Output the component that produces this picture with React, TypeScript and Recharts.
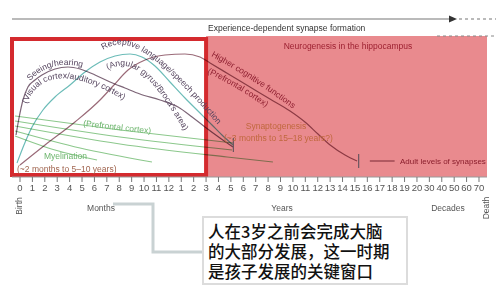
import React from 'react';
import { ComposedChart, Line, XAxis, YAxis, ReferenceArea, Scatter } from 'recharts';

// Axis: 0-12 months, 1-20 years, 30-70 (decades) — positions are category indices
const tickLabels = ['0','1','2','3','4','5','6','7','8','9','10','11','12',
  '1','2','3','4','5','6','7','8','9','10','11','12','13','14','15','16','17','18','19','20',
  '30','40','50','60','70'];
const tickIndex = tickLabels.map((_, i) => i);

// Synaptogenesis curves (x = axis index, y = relative density)
const seeingHearing = [
  { x: -0.32, y: 42 }, { x: -0.08, y: 59 }, { x: 0.24, y: 77 }, { x: 0.64, y: 90 },
  { x: 1.21, y: 97 }, { x: 1.77, y: 102 }, { x: 2.82, y: 108 }, { x: 3.87, y: 110 },
  { x: 4.84, y: 108 }, { x: 6.05, y: 102 }, { x: 7.26, y: 95 }, { x: 8.46, y: 89 },
  { x: 9.67, y: 83 }, { x: 11.29, y: 77 }, { x: 12.74, y: 70 }, { x: 13.87, y: 60 },
  { x: 14.91, y: 50 }, { x: 16.12, y: 39 }, { x: 17.17, y: 30 },
];
const language = [
  { x: -0.24, y: 14 }, { x: 0.32, y: 32 }, { x: 0.97, y: 50 }, { x: 1.85, y: 67 },
  { x: 2.82, y: 80 }, { x: 4.03, y: 92 }, { x: 5.24, y: 105 }, { x: 6.45, y: 115 },
  { x: 7.66, y: 121 }, { x: 8.87, y: 123 }, { x: 9.83, y: 120 }, { x: 10.88, y: 111 },
  { x: 12.09, y: 95 }, { x: 13.3, y: 79 }, { x: 14.51, y: 64 }, { x: 15.48, y: 52 },
  { x: 16.28, y: 42 }, { x: 17.17, y: 32 },
];
const higherCognitive = [
  { x: 0, y: 12 }, { x: 2.02, y: 32 }, { x: 4.43, y: 55 }, { x: 6.45, y: 77 },
  { x: 7.5, y: 91 }, { x: 8.71, y: 107 }, { x: 10.08, y: 117 }, { x: 11.69, y: 122 },
  { x: 13.3, y: 123 }, { x: 14.51, y: 120 }, { x: 15.32, y: 114 }, { x: 16.93, y: 102 },
  { x: 18.54, y: 90 }, { x: 20.15, y: 78 }, { x: 21.77, y: 66 }, { x: 22.97, y: 55 },
  { x: 24.02, y: 43 }, { x: 25.0, y: 32 }, { x: 26.2, y: 22 }, { x: 27.17, y: 16 },
];
// Myelination lines
const myelin1 = [{ x: -0.4, y: 61 }, { x: 8.06, y: 47 }, { x: 17.17, y: 34 }];
const myelin2 = [{ x: -0.4, y: 56 }, { x: 8.06, y: 40 }, { x: 17.09, y: 27 }];
const myelin3 = [{ x: -0.4, y: 51 }, { x: 8.06, y: 33 }, { x: 16.69, y: 20 }, { x: 20.39, y: 15 }];
const myelin4 = [{ x: -0.4, y: 46 }, { x: 4.84, y: 29 }, { x: 10.64, y: 15 }];
const myelin5 = [{ x: -0.4, y: 41 }, { x: 2.82, y: 27 }, { x: 6.21, y: 17 }];
// End markers and adult level
const endMarkers = [{ x: 17.2, y: 32 }, { x: 27.3, y: 16 }];
const adultLevel = [{ x: 28.2, y: 16 }, { x: 30.2, y: 16 }];

const calloutLines = ['人在3岁之前会完成大脑', '的大部分发展，这一时期', '是孩子发展的关键窗口'];

const FONT = '"Liberation Sans", Arial, sans-serif';

const VBar = (p: any) => (
  <line x1={p.cx} x2={p.cx} y1={p.cy - 7} y2={p.cy + 7} stroke="#6a5560" strokeWidth={1.2} />
);

export default function App() {
  return (
    <div style={{ position: 'absolute', left: 0, top: 0, width: 499, height: 293, background: '#fff' }}>
      <style>{`.blend path, .blend line { mix-blend-mode: multiply; }`}</style>
      <ComposedChart width={499} height={293} margin={{ top: 36, right: 12, bottom: 96, left: 12 }}>
        <XAxis
          type="number"
          dataKey="x"
          domain={[-0.645, 37.646]}
          allowDataOverflow
          ticks={tickIndex}
          interval={0}
          tickFormatter={(v: number) => tickLabels[v]}
          height={20}
          axisLine={{ stroke: '#9a9a9a', strokeWidth: 1.2 }}
          tickLine={{ stroke: '#777' }}
          tickSize={5}
          tick={{ fontSize: 9.5, fill: '#555', fontFamily: FONT }}
        />
        <YAxis hide type="number" dataKey="y" domain={[0, 141]} allowDataOverflow />
        <ReferenceArea x1={15} x2={37.646} y1={0} y2={141} fill="#e98a8e" fillOpacity={1} stroke="none" ifOverflow="visible" />
        <ReferenceArea x1={-0.645} x2={15} y1={2} y2={138} fill="#ffffff" fillOpacity={1} stroke="#d42a2e" strokeWidth={4} ifOverflow="visible" />
        <Line className="blend" data={myelin1} dataKey="y" type="monotone" stroke="#8cc88c" strokeWidth={1.1} dot={false} isAnimationActive={false} />
        <Line className="blend" data={myelin2} dataKey="y" type="monotone" stroke="#8cc88c" strokeWidth={1.1} dot={false} isAnimationActive={false} />
        <Line className="blend" data={myelin3} dataKey="y" type="monotone" stroke="#8cc88c" strokeWidth={1.1} dot={false} isAnimationActive={false} />
        <Line className="blend" data={myelin4} dataKey="y" type="monotone" stroke="#8cc88c" strokeWidth={1.1} dot={false} isAnimationActive={false} />
        <Line className="blend" data={myelin5} dataKey="y" type="monotone" stroke="#8cc88c" strokeWidth={1.1} dot={false} isAnimationActive={false} />
        <Line className="blend" data={seeingHearing} dataKey="y" type="monotone" stroke="#7d6577" strokeWidth={1.2} dot={false} isAnimationActive={false} />
        <Line className="blend" data={language} dataKey="y" type="monotone" stroke="#6cbcb8" strokeWidth={1.2} dot={false} isAnimationActive={false} />
        <Line className="blend" data={higherCognitive} dataKey="y" type="monotone" stroke="#9a6a78" strokeWidth={1.2} dot={false} isAnimationActive={false} />
        <Line className="blend" data={adultLevel} dataKey="y" type="linear" stroke="#9a6a78" strokeWidth={1.2} dot={false} isAnimationActive={false} />
        <Scatter className="blend" data={endMarkers} dataKey="y" shape={VBar} isAnimationActive={false} />
      </ComposedChart>

      <svg width={499} height={293} style={{ position: 'absolute', left: 0, top: 0, pointerEvents: 'none' }} fontFamily={FONT}>
        <defs>
          <path id="pSeeing" d="M 30 81 Q 55 55 94 71" />
          <path id="pVisual" d="M 27 104 C 38 72, 75 65, 142 112" />
          <path id="pReceptive" d="M 103 50 C 125 36, 150 44, 224 132" />
          <path id="pAngular" d="M 108 70 C 125 60, 145 62, 184 131" />
          <path id="pHigher" d="M 211 56 Q 255 80 300 114" />
          <path id="pPrefRed" d="M 207 73 Q 240 88 272 112" />
          <path id="pPrefGreen" d="M 83 126 L 154 134" />
        </defs>
        {/* header */}
        <line x1={12} y1={19} x2={450} y2={19} stroke="#777" strokeWidth={1.2} />
        <polygon points="449,15.5 457,19 449,22.5" fill="#333" />
        <line x1={459} y1={19} x2={496} y2={19} stroke="#777" strokeWidth={1.2} strokeDasharray="3 3" />
        <line x1={437} y1={36} x2={496} y2={36} stroke="#888" strokeWidth={1} strokeDasharray="3 3" />
        <text x={208} y={31} fontSize={8.5} fill="#333">Experience-dependent synapse formation</text>
        <text x={348} y={49} fontSize={8.5} fill="#9c2030" textAnchor="middle">Neurogenesis in the hippocampus</text>

        <text fontSize={8.5} fill="#55445e"><textPath href="#pSeeing">Seeing/hearing</textPath></text>
        <text fontSize={8.5} fill="#55445e"><textPath href="#pVisual">(Visual cortex/auditory cortex)</textPath></text>
        <text fontSize={8.5} fill="#55445e"><textPath href="#pReceptive">Receptive language/speech production</textPath></text>
        <text fontSize={8.5} fill="#55445e"><textPath href="#pAngular">(Angular gyrus/Broca's area)</textPath></text>
        <text fontSize={8.5} fill="#8e1f30"><textPath href="#pHigher">Higher cognitive functions</textPath></text>
        <text fontSize={8.5} fill="#8e1f30"><textPath href="#pPrefRed">(Prefrontal cortex)</textPath></text>
        <text fontSize={8.5} fill="#6db56d"><textPath href="#pPrefGreen">(Prefrontal cortex)</textPath></text>
        <text x={44} y={159} fontSize={8.5} fill="#6db56d">Myelination</text>
        <text x={17} y={172} fontSize={8.5} fill="#a0644e">(~2 months to 5–10 years)</text>
        <text x={276} y={129} fontSize={8.5} fill="#c0683e" textAnchor="middle">Synaptogenesis</text>
        <text x={224} y={141} fontSize={8.5} fill="#c0683e">(~3 months to 15–18 years?)</text>
        <text x={400} y={164} fontSize={8} fill="#8a1e2c">Adult levels of synapses</text>

        {/* axis captions */}
        <text x={101} y={211} fontSize={8.5} fill="#555" textAnchor="middle">Months</text>
        <text x={282} y={211} fontSize={8.5} fill="#555" textAnchor="middle">Years</text>
        <text x={448} y={211} fontSize={8.5} fill="#555" textAnchor="middle">Decades</text>
        <text x={22} y={206} fontSize={8.5} fill="#555" textAnchor="middle" transform="rotate(-90 22 206)">Birth</text>
        <text x={489} y={208} fontSize={8.5} fill="#555" textAnchor="middle" transform="rotate(-90 489 208)">Death</text>

        {/* callout */}
        <polyline points="113,204 153,204 153,252 203,252" fill="none" stroke="#c9d2d3" strokeWidth={3} />
        <rect x={203} y={217} width={204} height={67} fill="#fff" stroke="#dcdcdc" strokeWidth={2} />
        {calloutLines.map((t, i) => (
          <text key={i} x={208} y={238 + i * 20} fontSize={16.5} fill="#111"
            fontFamily='"Noto Sans CJK SC", sans-serif' fontWeight={500}>{t}</text>
        ))}
      </svg>
    </div>
  );
}
